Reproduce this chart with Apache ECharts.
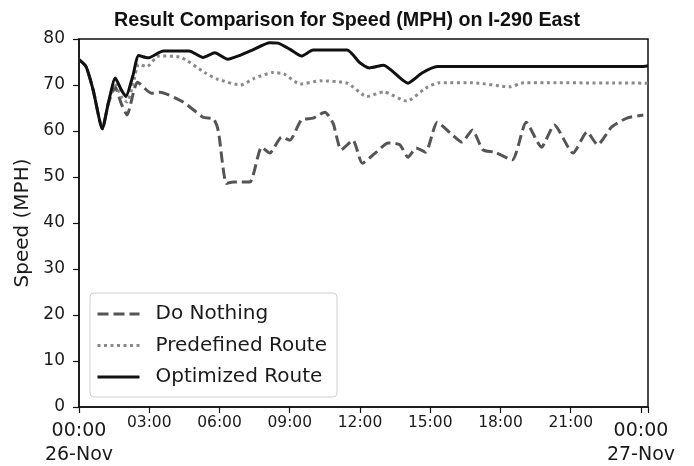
<!DOCTYPE html>
<html>
<head>
<meta charset="utf-8">
<script src="https://cdn.jsdelivr.net/npm/echarts@6/dist/echarts.min.js"></script>
<style>
  html, body { margin: 0; padding: 0; background: #fff; }
  #chart { width: 694px; height: 466px; }
</style>
</head>
<body>
<div id="chart"></div>
<script>
// hours since 26-Nov 00:00 and speed (MPH)
var doNothingHours = [0, 0.3, 0.6, 1.0, 1.25, 1.55, 1.8, 2.05, 2.5, 3.1, 3.45, 4.45, 5.3, 5.75, 5.95, 6.3, 6.6, 6.9, 7.3, 7.8, 8.15, 8.65, 9.0, 9.5, 10.0, 10.5, 10.85, 11.2, 11.7, 12.1, 12.7, 13.2, 13.7, 14.05, 14.4, 14.8, 15.3, 15.85, 16.35, 16.8, 17.25, 17.75, 18.5, 19.1, 19.75, 20.3, 21.1, 21.7, 22.15, 22.75, 23.4, 24.1]
var doNothingSpeed = [75.5, 74, 69, 60.5, 66, 69.5, 66, 63.5, 70.6, 68.2, 68.4, 66.3, 63, 62.6, 60, 48.6, 48.9, 48.9, 48.9, 56.5, 55.2, 58.7, 58, 62.4, 62.8, 64.1, 61.7, 55.9, 58, 53, 55.4, 57.4, 57, 54.3, 56.3, 55.4, 61.9, 59.6, 57.6, 60.2, 55.9, 55.4, 53.7, 61.9, 56.5, 61.3, 55.2, 59.8, 57, 60.9, 62.8, 63.5]

var predefinedHours = [0, 0.3, 0.6, 1.0, 1.25, 1.55, 1.8, 2.05, 2.3, 2.55, 2.9, 3.4, 4.3, 5.4, 5.9, 6.9, 7.5, 8.3, 8.75, 9.45, 10.3, 11.45, 12.3, 13.0, 14.0, 14.8, 15.4, 16.8, 18.4, 19.0, 24.3]
var predefinedSpeed = [75.5, 74, 69, 60.5, 66, 70.5, 67.5, 66.3, 70, 74.5, 74.0, 76.3, 76.1, 72.6, 71.3, 70.0, 71.5, 72.7, 72.4, 70.2, 70.9, 70.4, 67.5, 68.5, 66.5, 69.3, 70.5, 70.5, 69.6, 70.5, 70.4]

var optimizedHours = [0, 0.3, 0.6, 1.0, 1.25, 1.55, 1.8, 2.0, 2.3, 2.55, 2.95, 3.6, 4.7, 5.3, 5.8, 6.35, 6.9, 7.4, 8.15, 8.5, 9.0, 9.5, 10.0, 11.45, 12.0, 12.4, 13.0, 14.05, 14.65, 15.3, 18, 21, 24.0, 24.3]
var optimizedSpeed = [75.5, 74, 69, 60.5, 66, 71.5, 69, 67.5, 72, 76.4, 75.9, 77.4, 77.4, 76, 77, 75.6, 76.5, 77.6, 79.2, 79.1, 77.8, 76.3, 77.6, 77.6, 74.8, 73.7, 74.3, 70.4, 72.6, 74.0, 74.0, 74.0, 74.0, 74.2]

var xTicks = [0, 3, 6, 9, 12, 15, 18, 21, 24]
var xTickLabels = ['00:00\n26-Nov', '03:00', '06:00', '09:00', '12:00', '15:00', '18:00', '21:00', '00:00\n27-Nov']

function pairs (hours, speed) {
  return hours.map(function (h, i) { return [h, speed[i]] })
}

var chart = echarts.init(document.getElementById('chart'), null, { renderer: 'canvas' })
chart.setOption({
  animation: false,
  title: {
    text: 'Result Comparison for Speed (MPH) on I-290 East',
    left: 'center',
    top: 6,
    textStyle: {
      fontFamily: 'Liberation Sans',
      fontWeight: 'bold',
      fontSize: 19.7,
      color: '#111'
    }
  },
  legend: {
    orient: 'vertical',
    left: 90,
    top: 293,
    padding: [11, 10, 10, 6],
    itemWidth: 42,
    itemHeight: 20,
    itemGap: 11.5,
    borderColor: '#cfcfcf',
    borderWidth: 1,
    borderRadius: 4,
    backgroundColor: 'rgba(255,255,255,0.8)',
    itemStyle: { opacity: 0 },
    lineStyle: { width: 3 },
    textStyle: {
      fontFamily: 'DejaVu Sans',
      fontSize: 20,
      color: '#1a1a1a',
      padding: [0, 0, 0, 11]
    },
    data: ['Do Nothing', 'Predefined Route', 'Optimized Route']
  },
  grid: {
    left: 79,
    right: 46,
    top: 39,
    bottom: 59,
    show: true,
    borderColor: '#111',
    borderWidth: 1.5
  },
  xAxis: {
    type: 'value',
    min: 0,
    max: 24.3,
    interval: 3,
    splitLine: { show: false },
    axisLine: { lineStyle: { color: '#111', width: 1.5 } },
    axisTick: { length: 6, lineStyle: { color: '#111', width: 1.2 } },
    axisLabel: {
      margin: 8,
      color: '#1a1a1a',
      fontFamily: 'DejaVu Sans',
      formatter: function (v) {
        var i = xTicks.indexOf(v)
        if (i < 0) return ''
        var parts = xTickLabels[i].split('\n')
        if (parts.length > 1) return '{a|' + parts[0] + '}\n{b|' + parts[1] + '}'
        return '{m|' + parts[0] + '}'
      },
      rich: {
        m: { fontSize: 15.5, lineHeight: 15, fontFamily: 'DejaVu Sans', color: '#1a1a1a' },
        a: { fontSize: 19, lineHeight: 32, fontFamily: 'DejaVu Sans', color: '#1a1a1a' },
        b: { fontSize: 19, lineHeight: 16, fontFamily: 'DejaVu Sans', color: '#1a1a1a' }
      }
    }
  },
  yAxis: {
    type: 'value',
    min: 0,
    max: 80,
    interval: 10,
    name: 'Speed (MPH)',
    nameLocation: 'middle',
    nameRotate: 90,
    nameGap: 46,
    nameTextStyle: { fontFamily: 'DejaVu Sans', fontSize: 20, color: '#1a1a1a' },
    splitLine: { show: false },
    axisLine: { show: true, lineStyle: { color: '#111', width: 1.5 } },
    axisTick: { show: true, length: 6, lineStyle: { color: '#111', width: 1.2 } },
    axisLabel: { margin: 14, fontFamily: 'DejaVu Sans', fontSize: 17, color: '#1a1a1a' }
  },
  series: [
    {
      name: 'Do Nothing',
      type: 'line',
      symbol: 'none',
      smooth: 0.2,
      z: 2,
      lineStyle: { color: '#555', width: 3, type: [11, 5] },
      itemStyle: { color: '#555' },
      data: pairs(doNothingHours, doNothingSpeed)
    },
    {
      name: 'Predefined Route',
      type: 'line',
      symbol: 'none',
      smooth: 0.2,
      z: 3,
      lineStyle: { color: '#8a8a8a', width: 3, type: [3, 3.5] },
      itemStyle: { color: '#8a8a8a' },
      data: pairs(predefinedHours, predefinedSpeed)
    },
    {
      name: 'Optimized Route',
      type: 'line',
      symbol: 'none',
      smooth: 0.2,
      z: 4,
      lineStyle: { color: '#111', width: 3 },
      itemStyle: { color: '#111' },
      data: pairs(optimizedHours, optimizedSpeed)
    }
  ]
})
</script>
</body>
</html>
